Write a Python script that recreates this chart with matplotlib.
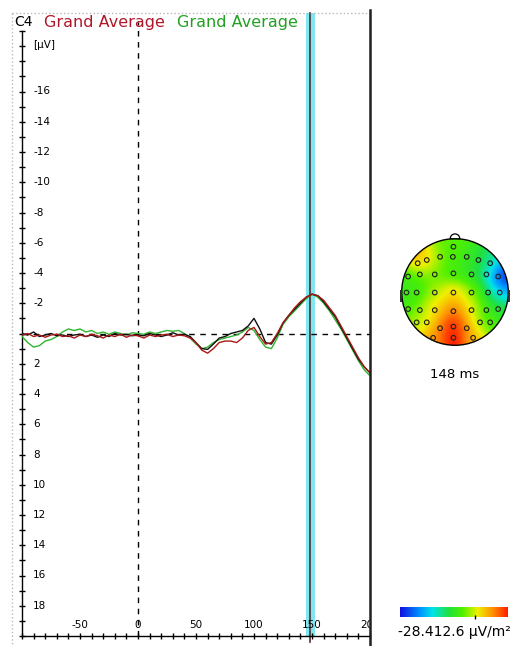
import numpy as np
import matplotlib
matplotlib.use('Agg')
import matplotlib.pyplot as plt
from matplotlib.lines import Line2D
from matplotlib.patches import Circle, Wedge, Rectangle
from matplotlib.colors import LinearSegmentedColormap, Normalize

# ---- ERP data (C4, µV, negative up) ----
times = np.arange(-100, 201, 5)
black = [0.0, 0.1, -0.1, 0.2, 0.1, 0.0, 0.15, 0.1, 0.2, 0.1, 0.05, 0.2, 0.1, 0.25, 0.1, 0.2,
         0.0, 0.1, 0.05, 0.15, 0.1, 0.15, 0.0, 0.1, 0.2, 0.1, -0.05, 0.1, 0.05, 0.2, 0.6,
         1.0, 1.05, 0.7, 0.3, 0.2, 0.0, -0.1, -0.2, -0.5, -1.0, -0.3, 0.6, 0.7, 0.1, -0.7,
         -1.2, -1.6, -2.0, -2.4, -2.6, -2.5, -2.1, -1.6, -1.1, -0.4, 0.3, 1.0, 1.7, 2.2, 2.6]
red = [0.1, 0.0, 0.2, 0.1, 0.25, 0.1, 0.05, 0.2, 0.15, 0.3, 0.1, 0.2, 0.05, 0.15, 0.3, 0.1,
       0.2, 0.05, 0.25, 0.1, 0.15, 0.3, 0.1, 0.2, 0.1, 0.05, 0.2, 0.1, 0.15, 0.3, 0.6,
       1.1, 1.3, 1.0, 0.6, 0.5, 0.5, 0.6, 0.3, -0.2, -0.4, 0.2, 0.7, 0.6, 0.0, -0.7,
       -1.2, -1.7, -2.1, -2.4, -2.6, -2.5, -2.2, -1.7, -1.2, -0.5, 0.2, 0.9, 1.6, 2.2, 2.6]
green = [0.2, 0.6, 0.9, 0.8, 0.5, 0.4, 0.2, -0.1, -0.3, -0.2, -0.3, -0.1, -0.2, 0.0, -0.1, 0.05,
         -0.1, 0.0, 0.1, -0.05, 0.0, 0.05, -0.1, 0.0, -0.1, -0.2, -0.15, -0.2, 0.0, 0.3, 0.7,
         1.0, 0.9, 0.6, 0.4, 0.3, 0.2, 0.1, -0.1, -0.4, -0.2, 0.4, 0.9, 1.0, 0.3, -0.6,
         -1.1, -1.5, -1.9, -2.3, -2.6, -2.4, -2.0, -1.5, -0.9, -0.3, 0.4, 1.1, 1.8, 2.4, 2.8]
cursor_ms = 148

# ---- topomap electrodes (unit head coords) and values (µV/m²) ----
elec_x = [-0.03, -0.28, -0.04, 0.22, -0.53, 0.44, -0.70, 0.66,
          -0.88, -0.66, -0.38, -0.03, 0.31, 0.59, 0.81,
          -0.91, -0.72, -0.38, -0.03, 0.31, 0.62, 0.84,
          -0.88, -0.66, -0.38, -0.03, 0.31, 0.59, 0.81,
          -0.72, -0.53, -0.28, -0.03, 0.22, 0.47, 0.66,
          -0.41, -0.03, 0.34]
elec_y = [0.85, 0.66, 0.66, 0.66, 0.60, 0.60, 0.54, 0.54,
          0.29, 0.33, 0.33, 0.35, 0.33, 0.33, 0.29,
          -0.01, -0.01, -0.01, -0.01, -0.01, -0.01, -0.01,
          -0.32, -0.34, -0.34, -0.36, -0.34, -0.34, -0.32,
          -0.57, -0.57, -0.68, -0.65, -0.68, -0.57, -0.57,
          -0.86, -0.86, -0.86]
elec_v = [-4, -3, -6, -7, 2, -9, 7, -14,
          -7, -5, -4, -6, -8, -12, -30,
          -7, -6, -1, 3, -2, -9, -20,
          -7, -2, 3, 7, 2, -6, -10,
          -1, 1, 8, 14, 6, -2, -6,
          6, 14, 4]
vmin, vmax = -28.4, 12.6

fig = plt.figure(figsize=(5.18, 6.46), dpi=100)
W, H = 518, 646

def fx(px):
    return px / W

def fy(py):
    return 1 - py / H

# outer frame
fig.add_artist(Line2D([fx(12), fx(370)], [fy(13), fy(13)], color='#b8b8b8', lw=1, ls=':'))
fig.add_artist(Line2D([fx(12), fx(12)], [fy(13), fy(646)], color='#b8b8b8', lw=1, ls=':'))

ax = fig.add_axes([fx(22), fy(636), (370 - 22) / W, (636 - 31) / H])
ax.set_xlim(-100, 200)
ax.set_ylim(20, -20)
for s in ['top', 'right']:
    ax.spines[s].set_visible(False)
ax.spines['left'].set_linewidth(1.0)
ax.spines['bottom'].set_linewidth(1.0)

ax.set_yticks(np.arange(-20, 21, 2))
ax.set_yticks(np.arange(-19, 20, 2), minor=True)
ax.set_xticks(np.arange(-100, 201, 50))
ax.set_xticks(np.arange(-100, 201, 10), minor=True)
ax.tick_params(axis='y', which='major', direction='inout', length=5, width=1,
               labelleft=False)
ax.tick_params(axis='y', which='minor', direction='inout', length=4, width=1)
ax.tick_params(axis='x', which='major', direction='inout', length=5, width=1,
               labelbottom=False)
ax.tick_params(axis='x', which='minor', direction='inout', length=4, width=1)

# cursor and reference lines
ax.axvspan(cursor_ms - 3.5, cursor_ms + 4.5, ymin=0, ymax=1.03, color='#7fe6f2',
           lw=0, clip_on=False, zorder=1)
ax.axvline(cursor_ms + 0.5, ymin=-0.01, ymax=1.03, color='#503030', lw=1.2,
           clip_on=False, zorder=2)
ax.axvline(0, ymin=0, ymax=1.015, color='black', lw=1, ls=(0, (4, 4)), clip_on=False)
ax.axhline(0, color='black', lw=1, ls=(0, (4, 4)))

ax.plot(times, green, color='#2fb52f', lw=1.0, zorder=3)
ax.plot(times, red, color='#a81818', lw=1.0, zorder=4)
ax.plot(times, black, color='#101010', lw=1.0, zorder=3.5)

for v in list(range(-16, 0, 2)) + list(range(2, 19, 2)):
    ax.text(-90.5, v, str(v), fontsize=7.5, ha='left', va='center')
ax.text(-90.5, -19.1, '[µV]', fontsize=7.5, ha='left', va='center')
for t in range(-50, 201, 50):
    ax.text(t, 19.3, str(t), fontsize=7.5, ha='center', va='center', clip_on=True)

# right border
fig.add_artist(Line2D([fx(370), fx(370)], [fy(10), fy(646)], color='#202020', lw=1.8))

# header
fig.text(fx(14), fy(22), 'C4', fontsize=10, color='black', va='center')
fig.text(fx(44), fy(22), 'Grand Average', fontsize=11.5, color='#b0182a', va='center')
fig.text(fx(177), fy(22), 'Grand Average', fontsize=11.5, color='#22a022', va='center')

# colormap
cmap = LinearSegmentedColormap.from_list('bva', [
    (0.0, '#1010e0'), (0.18, '#0090ff'), (0.3, '#00e4ea'), (0.45, '#20e040'),
    (0.58, '#50f000'), (0.72, '#f0f000'), (0.86, '#ff9000'), (1.0, '#ff1c00')])
norm = Normalize(vmin, vmax)

# topomap
axt = fig.add_axes([fx(390), fy(357), 130 / W, 130 / H])
axt.set_xlim(-1.22, 1.22)
axt.set_ylim(-1.22, 1.22)
axt.set_aspect('equal')
axt.axis('off')

ex = np.array(elec_x)
ey = np.array(elec_y)
ev = np.array(elec_v, dtype=float)
g = np.linspace(-1, 1, 201)
gx, gy = np.meshgrid(g, g)
d2 = (gx[..., None] - ex) ** 2 + (gy[..., None] - ey) ** 2
w = np.exp(-d2 / (2 * 0.17 ** 2))
field = (w * ev).sum(-1) / w.sum(-1)
img = axt.imshow(field, extent=(-1, 1, -1, 1), origin='lower', cmap=cmap, norm=norm,
                 interpolation='bilinear', zorder=1)
head = Circle((0, 0), 1.0, transform=axt.transData, fc='none', ec='none')
axt.add_patch(head)
img.set_clip_path(head)
axt.add_patch(Circle((0, 0), 1.0, fc='none', ec='black', lw=1.0, zorder=3))
axt.add_patch(Wedge((0, 1.0), 0.09, 0, 180, fc='white', ec='black', lw=0.9, zorder=3))
axt.add_patch(Rectangle((-1.04, -0.18), 0.05, 0.22, fc='#303030', ec='none', zorder=3))
axt.add_patch(Rectangle((0.99, -0.18), 0.05, 0.22, fc='#303030', ec='none', zorder=3))
axt.scatter(ex, ey, s=11, facecolors='none', edgecolors='#202020', linewidths=0.8, zorder=4)

fig.text(fx(455), fy(374), f'{cursor_ms} ms', fontsize=9.5, ha='center', va='center')

# colorbar
axc = fig.add_axes([fx(400), fy(617), 108 / W, 10 / H])
axc.imshow(np.linspace(0, 1, 256)[None, :], aspect='auto', cmap=cmap,
           extent=(vmin, vmax, 0, 1))
axc.set_xlim(vmin, vmax)
axc.set_yticks([])
axc.set_xticks([0])
axc.set_xticklabels([])
axc.tick_params(axis='x', length=3, width=1, direction='inout')
for s in axc.spines.values():
    s.set_visible(False)
fig.text(fx(454), fy(632), '-28.412.6 µV/m²', fontsize=10, ha='center', va='center')

fig.savefig('out.png', dpi=100)
